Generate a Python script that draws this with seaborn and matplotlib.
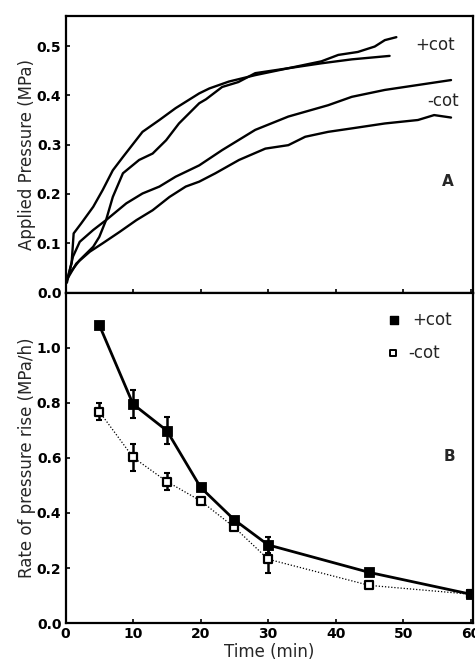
import matplotlib
matplotlib.use("Agg")
import matplotlib.pyplot as plt
import seaborn as sns
import numpy as np
import pandas as pd

# ---- Panel A: applied pressure traces ----
a1_t = [0.2, 0.9, 1.2, 2.3, 4.1, 5.5, 7.0, 8.5, 11.4, 13.9, 16.3, 19.8, 21.3, 24.2, 28.1, 33.0, 37.9, 42.4, 48.0]
a1_p = [0.025, 0.06, 0.12, 0.14, 0.174, 0.208, 0.248, 0.275, 0.326, 0.35, 0.374, 0.404, 0.414, 0.428, 0.441, 0.455, 0.465, 0.473, 0.48]

a2_t = [0.6, 2.1, 4.1, 5.0, 6.0, 7.0, 8.5, 10.9, 12.9, 14.9, 16.8, 19.8, 20.8, 23.2, 25.6, 28.1, 33.0, 37.9, 40.4, 43.3, 45.8, 47.3, 49.0]
a2_p = [0.039, 0.066, 0.093, 0.113, 0.147, 0.194, 0.242, 0.269, 0.282, 0.309, 0.343, 0.384, 0.392, 0.417, 0.427, 0.445, 0.455, 0.469, 0.482, 0.488, 0.499, 0.512, 0.518]

a3_t = [0.2, 1.1, 2.1, 4.1, 6.0, 9.0, 11.4, 13.9, 16.3, 19.8, 23.2, 28.1, 33.0, 38.9, 42.4, 47.3, 52.2, 57.1]
a3_p = [0.02, 0.073, 0.103, 0.127, 0.147, 0.181, 0.201, 0.215, 0.235, 0.258, 0.289, 0.33, 0.357, 0.38, 0.397, 0.411, 0.421, 0.431]

a4_t = [0.15, 1.6, 3.6, 5.5, 8.0, 10.5, 12.9, 15.4, 17.8, 19.8, 22.2, 25.7, 29.6, 33.0, 35.5, 38.9, 42.4, 47.3, 52.2, 54.6, 57.1]
a4_p = [0.025, 0.059, 0.083, 0.1, 0.123, 0.147, 0.167, 0.194, 0.215, 0.225, 0.242, 0.269, 0.292, 0.299, 0.316, 0.326, 0.333, 0.343, 0.35, 0.36, 0.355]

# ---- Panel B: rate of pressure rise ----
time_b = [5, 10, 15, 20, 25, 30, 45, 60]
rate_plus = [1.082, 0.795, 0.699, 0.493, 0.375, 0.284, 0.184, 0.105]
err_plus = [0.0, 0.05, 0.05, 0.0, 0.0, 0.03, 0.0, 0.0]
rate_minus = [0.768, 0.602, 0.514, 0.444, 0.348, 0.232, 0.137, 0.105]
err_minus = [0.03, 0.05, 0.03, 0.0, 0.0, 0.05, 0.0, 0.0]

xticks = [0, 10, 20, 30, 40, 50, 60]
yticks_a = [0.0, 0.1, 0.2, 0.3, 0.4, 0.5]
yticks_b = [0.0, 0.2, 0.4, 0.6, 0.8, 1.0]

sns.set_style("ticks")
plt.rcParams['font.family'] = ['DejaVu Sans']

fig = plt.figure(figsize=(4.75, 6.65), dpi=100)
L, R = 0.138, 0.995
axA = fig.add_axes([L, 0.560, R - L, 0.416])
axB = fig.add_axes([L, 0.063, R - L, 0.497])

for t, p in [(a1_t, a1_p), (a2_t, a2_p), (a3_t, a3_p), (a4_t, a4_p)]:
    sns.lineplot(x=t, y=p, ax=axA, color='black', lw=1.7, sort=False, estimator=None)

axA.set_xlim(0, 60.3)
axA.set_ylim(0, 0.561)
axA.set_xticks(xticks)
axA.set_xticklabels([])
axA.set_yticks(yticks_a)
axA.set_yticklabels([f"{v:.1f}" for v in yticks_a], fontweight='bold', fontsize=10)
axA.set_ylabel("Applied Pressure (MPa)", fontsize=12)
axA.set_xlabel("")
axA.text(51.8, 0.502, "+cot", fontsize=12, va='center', ha='left')
axA.text(53.6, 0.388, "-cot", fontsize=12, va='center', ha='left')
axA.text(56.6, 0.226, "A", fontsize=11, fontweight='bold', va='center', ha='center')

df_plus = pd.DataFrame({"t": time_b, "r": rate_plus})
df_minus = pd.DataFrame({"t": time_b, "r": rate_minus})
sns.lineplot(data=df_minus, x="t", y="r", ax=axB, color='black', lw=0.9,
             linestyle=(0, (1, 1.5)), estimator=None, zorder=2)
sns.lineplot(data=df_plus, x="t", y="r", ax=axB, color='black', lw=2.0,
             estimator=None, zorder=3)
axB.errorbar(time_b, rate_minus, yerr=err_minus, fmt='none', ecolor='black',
             elinewidth=1.8, capsize=2.5, capthick=1.5, zorder=4)
axB.errorbar(time_b, rate_plus, yerr=err_plus, fmt='none', ecolor='black',
             elinewidth=1.8, capsize=2.5, capthick=1.5, zorder=4)
sns.scatterplot(data=df_minus, x="t", y="r", ax=axB, marker='s', s=32,
                facecolor='white', edgecolor='black', linewidth=1.6, zorder=5)
sns.scatterplot(data=df_plus, x="t", y="r", ax=axB, marker='s', s=55,
                color='black', edgecolor='black', zorder=6)

axB.set_xlim(0, 60.3)
axB.set_ylim(0, 1.2)
axB.set_xticks(xticks)
axB.set_xticklabels([str(v) for v in xticks], fontweight='bold', fontsize=10)
axB.set_yticks(yticks_b)
axB.set_yticklabels([f"{v:.1f}" for v in yticks_b], fontweight='bold', fontsize=10)
axB.set_xlabel("Time (min)", fontsize=12, labelpad=1)
axB.set_ylabel("Rate of pressure rise (MPa/h)", fontsize=12)

# legend-like annotations
axB.scatter([48.6], [1.10], marker='s', s=40, color='black', zorder=6)
axB.text(51.3, 1.10, "+cot", fontsize=12, va='center', ha='left')
axB.scatter([48.5], [0.98], marker='s', s=22, facecolor='white', edgecolor='black', linewidth=1.4, zorder=6)
axB.text(50.8, 0.98, "-cot", fontsize=12, va='center', ha='left')
axB.text(56.9, 0.605, "B", fontsize=11, fontweight='bold', va='center', ha='center')

for ax in (axA, axB):
    for s in ax.spines.values():
        s.set_linewidth(1.6)
        s.set_color('black')
    ax.tick_params(direction='in', length=3, width=1.2, colors='black', pad=3)
    ax.yaxis.set_label_coords(-0.072, 0.5)

fig.savefig("out.png", dpi=100)
